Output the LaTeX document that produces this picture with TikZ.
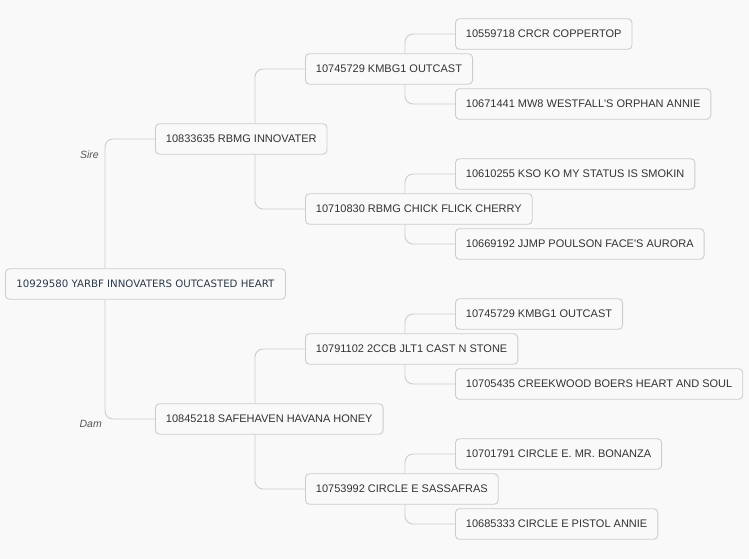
\documentclass[tikz,border=0pt]{standalone}
\usepackage{fontspec}
\setmainfont{Liberation Sans}[Ligatures=TeXOff]
\newfontfamily\rootfont{DejaVu Sans}
\definecolor{bgcol}{HTML}{F9F9F9}
\definecolor{bordercol}{HTML}{CCCCCC}
\definecolor{linecol}{HTML}{CCCCCC}
\definecolor{txtcol}{HTML}{333333}
\definecolor{roottxt}{HTML}{2C3A4A}
\definecolor{lblcol}{HTML}{555555}
\begin{document}
\begin{tikzpicture}[x=1pt,y=-1pt,
  pnode/.style={draw=bordercol, line width=0.9pt, rounded corners=4pt, fill=bgcol,
    font=\fontsize{11}{13}\selectfont, text=txtcol, inner xsep=10.5pt, inner ysep=0pt,
    minimum height=30.5pt, anchor=west},
  rootnode/.style={pnode, font=\rootfont\fontsize{10.2}{12}\selectfont, text=roottxt, inner xsep=11pt},
  conn/.style={draw=linecol, line width=0.9pt, rounded corners=8pt},
  rel/.style={font=\itshape\fontsize{10.5}{12}\selectfont, text=lblcol, anchor=east, inner sep=0pt}]
\useasboundingbox[fill=bgcol] (0,0) rectangle (749,559);
% root
\node[rootnode] (r) at (5,284) {10929580 YARBF INNOVATERS OUTCASTED HEART};
% level 1
\node[pnode] (s) at (155,139) {10833635 RBMG INNOVATER};
\node[pnode] (d) at (155,419) {10845218 SAFEHAVEN HAVANA HONEY};
% level 2
\node[pnode] (ss) at (305,69) {10745729 KMBG1 OUTCAST};
\node[pnode] (sd) at (305,209) {10710830 RBMG CHICK FLICK CHERRY};
\node[pnode] (ds) at (305,349) {10791102 2CCB JLT1 CAST N STONE};
\node[pnode] (dd) at (305,489) {10753992 CIRCLE E SASSAFRAS};
% level 3
\node[pnode] (sss) at (455,34) {10559718 CRCR COPPERTOP};
\node[pnode] (ssd) at (455,104) {10671441 MW8 WESTFALL'S ORPHAN ANNIE};
\node[pnode] (sds) at (455,174) {10610255 KSO KO MY STATUS IS SMOKIN};
\node[pnode] (sdd) at (455,244) {10669192 JJMP POULSON FACE'S AURORA};
\node[pnode] (dss) at (455,314) {10745729 KMBG1 OUTCAST};
\node[pnode] (dsd) at (455,384) {10705435 CREEKWOOD BOERS HEART AND SOUL};
\node[pnode] (dds) at (455,454) {10701791 CIRCLE E. MR. BONANZA};
\node[pnode] (ddd) at (455,524) {10685333 CIRCLE E PISTOL ANNIE};
% connectors
\draw[conn] ([xshift=100pt]r.north west) |- (s.west);
\draw[conn] ([xshift=100pt]r.south west) |- (d.west);
\draw[conn] ([xshift=100pt]s.north west) |- (ss.west);
\draw[conn] ([xshift=100pt]s.south west) |- (sd.west);
\draw[conn] ([xshift=100pt]d.north west) |- (ds.west);
\draw[conn] ([xshift=100pt]d.south west) |- (dd.west);
\draw[conn] ([xshift=100pt]ss.north west) |- (sss.west);
\draw[conn] ([xshift=100pt]ss.south west) |- (ssd.west);
\draw[conn] ([xshift=100pt]sd.north west) |- (sds.west);
\draw[conn] ([xshift=100pt]sd.south west) |- (sdd.west);
\draw[conn] ([xshift=100pt]ds.north west) |- (dss.west);
\draw[conn] ([xshift=100pt]ds.south west) |- (dsd.west);
\draw[conn] ([xshift=100pt]dd.north west) |- (dds.west);
\draw[conn] ([xshift=100pt]dd.south west) |- (ddd.west);
% labels
\node[rel] (lsire) at (99,155) {Sire};
\node[rel] (ldam) at (102,424) {Dam};
\end{tikzpicture}
\end{document}
